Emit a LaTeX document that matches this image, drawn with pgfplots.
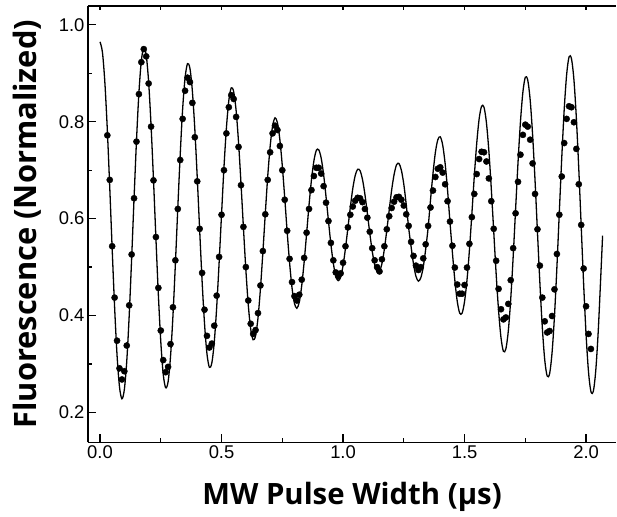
\documentclass[border=0pt]{standalone}
\usepackage{fontspec}
\setmainfont{Liberation Sans}
\newfontfamily\labfont{Open Sans}
\usepackage{pgfplots}
\usepackage{pgfplotstable}
\pgfplotsset{compat=1.18}
\pgfplotstableread{
x y
0.000 0.965
0.010 0.943
0.020 0.880
0.030 0.783
0.040 0.664
0.050 0.537
0.060 0.417
0.070 0.318
0.080 0.253
0.090 0.228
0.100 0.247
0.110 0.306
0.120 0.400
0.130 0.517
0.140 0.642
0.150 0.761
0.160 0.860
0.170 0.926
0.180 0.953
0.190 0.938
0.200 0.882
0.210 0.792
0.220 0.680
0.230 0.559
0.240 0.443
0.250 0.346
0.260 0.279
0.270 0.251
0.280 0.263
0.290 0.315
0.300 0.399
0.310 0.506
0.320 0.622
0.330 0.733
0.340 0.827
0.350 0.891
0.360 0.920
0.370 0.910
0.380 0.863
0.390 0.785
0.400 0.685
0.410 0.576
0.420 0.471
0.430 0.383
0.440 0.321
0.450 0.293
0.460 0.302
0.470 0.345
0.480 0.417
0.490 0.509
0.500 0.609
0.510 0.706
0.520 0.787
0.530 0.844
0.540 0.870
0.550 0.862
0.560 0.823
0.570 0.757
0.580 0.673
0.590 0.582
0.600 0.495
0.610 0.422
0.620 0.372
0.630 0.350
0.640 0.358
0.650 0.395
0.660 0.455
0.670 0.530
0.680 0.610
0.690 0.687
0.700 0.749
0.710 0.791
0.720 0.808
0.730 0.798
0.740 0.763
0.750 0.709
0.760 0.643
0.770 0.573
0.780 0.509
0.790 0.457
0.800 0.425
0.810 0.415
0.820 0.428
0.830 0.462
0.840 0.511
0.850 0.569
0.860 0.628
0.870 0.680
0.880 0.719
0.890 0.741
0.900 0.742
0.910 0.725
0.920 0.691
0.930 0.645
0.940 0.595
0.950 0.547
0.960 0.508
0.970 0.481
0.980 0.472
0.990 0.479
1.000 0.503
1.010 0.539
1.020 0.581
1.030 0.624
1.040 0.662
1.050 0.689
1.060 0.702
1.070 0.699
1.080 0.681
1.090 0.650
1.100 0.611
1.110 0.570
1.120 0.533
1.130 0.505
1.140 0.490
1.150 0.491
1.160 0.507
1.170 0.537
1.180 0.576
1.190 0.618
1.200 0.659
1.210 0.691
1.220 0.711
1.230 0.714
1.240 0.700
1.250 0.671
1.260 0.629
1.270 0.581
1.280 0.542
1.290 0.506
1.300 0.481
1.310 0.471
1.320 0.478
1.330 0.500
1.340 0.537
1.350 0.581
1.360 0.639
1.370 0.693
1.380 0.737
1.390 0.763
1.400 0.769
1.410 0.752
1.420 0.714
1.430 0.659
1.440 0.593
1.450 0.530
1.460 0.473
1.470 0.429
1.480 0.405
1.490 0.405
1.500 0.429
1.510 0.473
1.520 0.535
1.530 0.609
1.540 0.687
1.550 0.755
1.560 0.806
1.570 0.832
1.580 0.830
1.590 0.798
1.600 0.740
1.610 0.662
1.620 0.574
1.630 0.486
1.640 0.410
1.650 0.354
1.660 0.326
1.670 0.331
1.680 0.368
1.690 0.434
1.700 0.521
1.710 0.619
1.720 0.716
1.730 0.800
1.740 0.861
1.750 0.892
1.760 0.886
1.770 0.845
1.780 0.773
1.790 0.679
1.800 0.572
1.810 0.467
1.820 0.375
1.830 0.308
1.840 0.275
1.850 0.280
1.860 0.323
1.870 0.399
1.880 0.500
1.890 0.614
1.900 0.726
1.910 0.825
1.920 0.897
1.930 0.934
1.940 0.930
1.950 0.887
1.960 0.808
1.970 0.703
1.980 0.584
1.990 0.465
2.000 0.361
2.010 0.284
2.020 0.243
2.030 0.244
2.040 0.287
2.050 0.367
2.060 0.475
2.068 0.565
}\fitdata
\pgfplotstableread{
x y
0.03 0.772
0.04 0.680
0.05 0.543
0.06 0.437
0.07 0.348
0.08 0.291
0.09 0.268
0.10 0.285
0.11 0.338
0.12 0.421
0.13 0.526
0.14 0.642
0.15 0.759
0.16 0.857
0.17 0.923
0.18 0.950
0.19 0.935
0.20 0.879
0.21 0.790
0.22 0.679
0.23 0.562
0.24 0.457
0.25 0.369
0.26 0.308
0.27 0.283
0.28 0.294
0.29 0.341
0.30 0.417
0.31 0.514
0.32 0.620
0.33 0.721
0.34 0.806
0.35 0.864
0.36 0.891
0.37 0.882
0.38 0.839
0.39 0.768
0.40 0.677
0.41 0.579
0.42 0.488
0.43 0.412
0.44 0.358
0.45 0.334
0.46 0.342
0.47 0.379
0.48 0.441
0.49 0.521
0.50 0.608
0.51 0.700
0.52 0.776
0.53 0.830
0.54 0.855
0.55 0.847
0.56 0.810
0.57 0.748
0.58 0.669
0.59 0.583
0.60 0.500
0.61 0.431
0.62 0.383
0.63 0.362
0.64 0.370
0.65 0.405
0.66 0.462
0.67 0.533
0.68 0.609
0.69 0.680
0.70 0.737
0.71 0.776
0.72 0.792
0.73 0.783
0.74 0.750
0.75 0.700
0.76 0.639
0.77 0.575
0.78 0.517
0.79 0.469
0.80 0.440
0.81 0.431
0.82 0.443
0.83 0.474
0.84 0.519
0.85 0.571
0.86 0.620
0.87 0.659
0.88 0.688
0.89 0.705
0.90 0.705
0.91 0.693
0.92 0.667
0.93 0.633
0.94 0.595
0.95 0.550
0.96 0.514
0.97 0.489
0.98 0.481
0.99 0.487
1.00 0.509
1.01 0.543
1.02 0.582
1.03 0.608
1.04 0.625
1.05 0.637
1.06 0.643
1.07 0.642
1.08 0.634
1.09 0.620
1.10 0.602
1.11 0.573
1.12 0.539
1.13 0.514
1.14 0.500
1.15 0.491
1.16 0.516
1.17 0.543
1.18 0.578
1.19 0.605
1.20 0.622
1.21 0.635
1.22 0.644
1.23 0.645
1.24 0.639
1.25 0.627
1.26 0.609
1.27 0.585
1.28 0.552
1.29 0.523
1.30 0.503
1.31 0.494
1.32 0.500
1.33 0.518
1.34 0.547
1.35 0.585
1.36 0.623
1.37 0.658
1.38 0.686
1.39 0.703
1.40 0.706
1.41 0.695
1.42 0.671
1.43 0.636
1.44 0.594
1.45 0.544
1.46 0.499
1.47 0.464
1.48 0.445
1.49 0.445
1.50 0.463
1.51 0.499
1.52 0.548
1.53 0.603
1.54 0.651
1.55 0.692
1.56 0.723
1.57 0.738
1.58 0.737
1.59 0.718
1.60 0.683
1.61 0.636
1.62 0.579
1.63 0.513
1.64 0.455
1.65 0.413
1.66 0.392
1.67 0.396
1.68 0.424
1.69 0.473
1.70 0.539
1.71 0.611
1.72 0.676
1.73 0.732
1.74 0.773
1.75 0.794
1.76 0.790
1.77 0.763
1.78 0.714
1.79 0.651
1.80 0.578
1.81 0.503
1.82 0.437
1.83 0.388
1.84 0.365
1.85 0.368
1.86 0.399
1.87 0.454
1.88 0.527
1.89 0.608
1.90 0.687
1.91 0.756
1.92 0.806
1.93 0.832
1.94 0.830
1.95 0.799
1.96 0.744
1.97 0.671
1.98 0.587
1.99 0.497
2.00 0.419
2.01 0.362
2.02 0.331
}\measdata
\begin{document}
\begin{tikzpicture}
\path (-88bp,-74bp) rectangle (529bp,443bp);
\begin{axis}[
  at={(0,0)}, anchor=south west,
  scale only axis, width=529bp, height=437bp,
  xmin=-0.05, xmax=2.124, ymin=0.138, ymax=1.039,
  clip=false,
  axis x line*=bottom, axis y line*=left,
  axis line style={line width=1.6bp, -},
  xtick={0,0.5,1.0,1.5,2.0}, minor xtick={0.25,0.75,1.25,1.75},
  ytick={0.2,0.4,0.6,0.8,1.0}, minor ytick={0.3,0.5,0.7,0.9},
  tick align=inside,
  major tick length=8bp, minor tick length=4bp,
  every tick/.style={black, line width=1.2bp},
  tick label style={font=\fontsize{18.5}{20}\selectfont},
  /pgf/number format/assume math mode=true,
  /pgf/number format/.cd, fixed, fixed zerofill, precision=1, /pgfplots/.cd,
  xlabel={\labfont\bfseries MW Pulse Width (μs)},
  ylabel={\labfont\bfseries Fluorescence (Normalized)},
  every axis x label/.style={at={(axis description cs:0.5,-0.142)}, anchor=base, font=\fontsize{29.5}{32}\selectfont},
  every axis y label/.style={at={(axis description cs:-0.0964,0.5)}, anchor=base, rotate=90, font=\fontsize{31}{33}\selectfont},
]
\addplot[black, line width=1.3bp, smooth, no marks] table[x=x, y=y] {\fitdata};
\addplot[only marks, mark=*, mark size=3.1bp, mark options={fill=black, draw=black}] table[x=x, y=y] {\measdata};
\draw[black, line width=1.6bp] (rel axis cs:0,1) -- (rel axis cs:1,1);
\pgfplotsinvokeforeach{0,0.25,0.5,0.75,1.0,1.25,1.5,1.75,2.0}{
  \draw[black, line width=1.2bp] (axis cs:#1,1.039) -- ([yshift=-4bp]axis cs:#1,1.039);
}
\end{axis}
\end{tikzpicture}
\end{document}
